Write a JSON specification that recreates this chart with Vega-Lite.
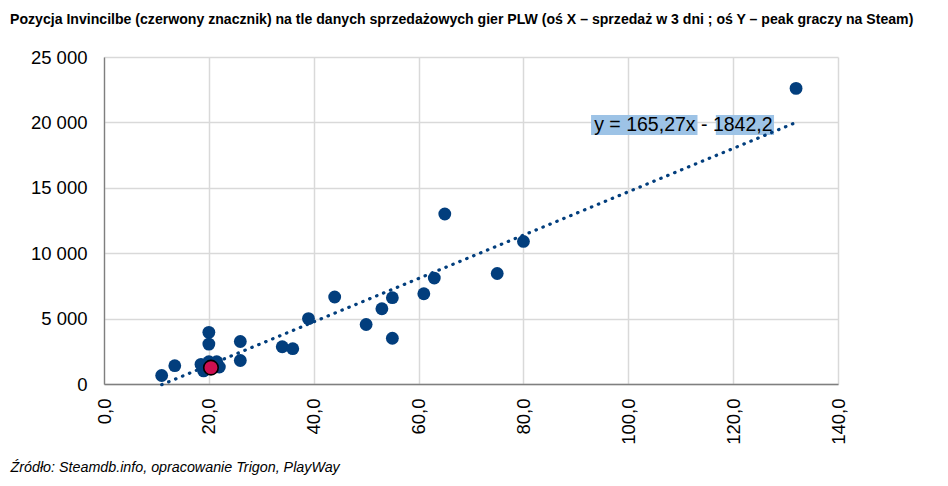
{
  "$schema": "https://vega.github.io/schema/vega-lite/v6.json",
  "width": 734,
  "height": 327,
  "autosize": {"type": "none"},
  "padding": {"left": 104, "top": 57, "right": 110, "bottom": 102},
  "background": "white",
  "title": {
    "text": "Pozycja Invincilbe (czerwony znacznik) na tle danych sprzedażowych gier PLW (oś X – sprzedaż w 3 dni ; oś Y – peak graczy na Steam)",
    "anchor": "start",
    "frame": "group",
    "dx": -94,
    "offset": 21,
    "font": "Liberation Sans",
    "fontSize": 14.1,
    "fontWeight": "bold",
    "color": "black"
  },
  "datasets": {
    "games": [
      {"sales": 132, "peak": 22600, "series": "PLW"},
      {"sales": 65, "peak": 13000, "series": "PLW"},
      {"sales": 80, "peak": 10900, "series": "PLW"},
      {"sales": 75, "peak": 8450, "series": "PLW"},
      {"sales": 63, "peak": 8100, "series": "PLW"},
      {"sales": 61, "peak": 6900, "series": "PLW"},
      {"sales": 55, "peak": 6600, "series": "PLW"},
      {"sales": 44, "peak": 6650, "series": "PLW"},
      {"sales": 53, "peak": 5750, "series": "PLW"},
      {"sales": 39, "peak": 5000, "series": "PLW"},
      {"sales": 50, "peak": 4550, "series": "PLW"},
      {"sales": 55, "peak": 3500, "series": "PLW"},
      {"sales": 34, "peak": 2850, "series": "PLW"},
      {"sales": 36, "peak": 2700, "series": "PLW"},
      {"sales": 20, "peak": 3950, "series": "PLW"},
      {"sales": 20, "peak": 3050, "series": "PLW"},
      {"sales": 26, "peak": 3250, "series": "PLW"},
      {"sales": 26, "peak": 1800, "series": "PLW"},
      {"sales": 13.5, "peak": 1400, "series": "PLW"},
      {"sales": 11, "peak": 650, "series": "PLW"},
      {"sales": 18.5, "peak": 1500, "series": "PLW"},
      {"sales": 19, "peak": 1000, "series": "PLW"},
      {"sales": 20, "peak": 1700, "series": "PLW"},
      {"sales": 21.5, "peak": 1700, "series": "PLW"},
      {"sales": 22, "peak": 1300, "series": "PLW"},
      {"sales": 19.5, "peak": 1150, "series": "PLW"},
      {"sales": 20.4, "peak": 1250, "series": "Invincible"}
    ]
  },
  "data": {"name": "games"},
  "layer": [
    {
      "data": {"values": [{}]},
      "mark": {"type": "rect", "color": "#9DC3E6"},
      "encoding": {
        "x": {"datum": 92.9, "type": "quantitative"},
        "x2": {"datum": 113.2},
        "y": {"datum": 20565, "type": "quantitative"},
        "y2": {"datum": 19036}
      }
    },
    {
      "data": {"values": [{}]},
      "mark": {"type": "rect", "color": "#9DC3E6"},
      "encoding": {
        "x": {"datum": 116.7, "type": "quantitative"},
        "x2": {"datum": 127.8},
        "y": {"datum": 20565, "type": "quantitative"},
        "y2": {"datum": 19036}
      }
    },
    {
      "transform": [
        {"filter": "datum.series == 'PLW'"},
        {"regression": "peak", "on": "sales"}
      ],
      "mark": {
        "type": "line",
        "color": "#023E7D",
        "strokeWidth": 3.2,
        "strokeCap": "round",
        "strokeDash": [0.5, 7]
      },
      "encoding": {
        "x": {"field": "sales", "type": "quantitative"},
        "y": {"field": "peak", "type": "quantitative"}
      }
    },
    {
      "transform": [{"filter": "datum.series == 'PLW'"}],
      "mark": {"type": "point", "filled": true, "opacity": 1, "color": "#023E7D", "size": 165},
      "encoding": {
        "x": {"field": "sales", "type": "quantitative"},
        "y": {"field": "peak", "type": "quantitative"}
      }
    },
    {
      "transform": [{"filter": "datum.series == 'Invincible'"}],
      "mark": {
        "type": "point",
        "filled": true,
        "opacity": 1,
        "fill": "#CC1050",
        "stroke": "black",
        "strokeWidth": 1.6,
        "size": 210
      },
      "encoding": {
        "x": {"field": "sales", "type": "quantitative"},
        "y": {"field": "peak", "type": "quantitative"}
      }
    },
    {
      "data": {"values": [{}]},
      "mark": {
        "type": "text",
        "text": "y = 165,27x - 1842,2",
        "align": "left",
        "baseline": "middle",
        "font": "Liberation Sans",
        "fontSize": 19.5,
        "color": "black"
      },
      "encoding": {
        "x": {"datum": 93.5, "type": "quantitative"},
        "y": {"datum": 19800, "type": "quantitative"}
      }
    }
  ],
  "resolve": {"scale": {"x": "shared", "y": "shared"}},
  "encoding": {
    "x": {
      "type": "quantitative",
      "scale": {"domain": [0, 140], "nice": false, "zero": true},
      "axis": {
        "values": [0, 20, 40, 60, 80, 100, 120, 140],
        "labelExpr": "replace(format(datum.value, '.1f'), '.', ',')",
        "labelAngle": -90,
        "labelPadding": 14,
        "title": "Źródło: Steamdb.info, opracowanie Trigon, PlayWay",
        "titleAnchor": "start",
        "titleAlign": "left",
        "titleBaseline": "alphabetic",
        "titleAngle": 0,
        "titleX": -94,
        "titleY": 87,
        "titleFont": "Liberation Sans",
        "titleFontSize": 14.3,
        "titleFontStyle": "italic",
        "titleFontWeight": "normal",
        "titleColor": "black"
      }
    },
    "y": {
      "type": "quantitative",
      "scale": {"domain": [0, 25000], "nice": false},
      "axis": {
        "values": [0, 5000, 10000, 15000, 20000, 25000],
        "labelExpr": "replace(format(datum.value, ',d'), ',', ' ')",
        "labelPadding": 17,
        "title": null
      }
    }
  },
  "config": {
    "view": {"stroke": null},
    "axis": {
      "grid": true,
      "gridColor": "#D9D9D9",
      "gridWidth": 1.5,
      "domainColor": "#7F7F7F",
      "domainWidth": 1.3,
      "ticks": false,
      "labelFont": "Liberation Sans",
      "labelFontSize": 18.5,
      "labelColor": "black"
    }
  }
}
